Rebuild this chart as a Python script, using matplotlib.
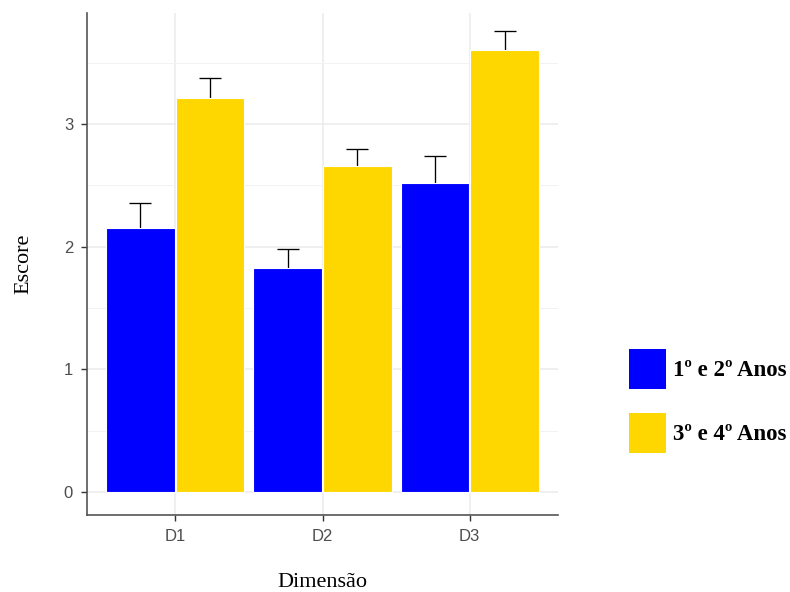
import matplotlib
matplotlib.use("Agg")
import matplotlib.pyplot as plt
import numpy as np
from matplotlib.patches import Rectangle

categories = ["D1", "D2", "D3"]
groups = ["1º e 2º Anos", "3º e 4º Anos"]
means_g1 = [2.15, 1.83, 2.52]
means_g2 = [3.21, 2.66, 3.60]
upper_g1 = [2.36, 1.98, 2.74]
upper_g2 = [3.375, 2.80, 3.76]
colors = ["#0000FF", "#FFD700"]

fig = plt.figure(figsize=(7.9, 5.92), dpi=100)
W, H = 790, 592
ax = fig.add_axes([87 / W, 1 - 515 / H, (558 - 87) / W, (515 - 13) / H])

x = np.arange(1, len(categories) + 1)
bw = 0.465
off = 0.237
for means, upper, col, o in [(means_g1, upper_g1, colors[0], -off),
                             (means_g2, upper_g2, colors[1], off)]:
    means = np.array(means)
    upper = np.array(upper)
    err = upper - means
    ax.errorbar(x + o, means, yerr=err, fmt="none", ecolor="black",
                elinewidth=0.95, capsize=7.6, capthick=0.95, zorder=2)
    ax.bar(x + o, means, width=bw, color=col, edgecolor="white",
           linewidth=0.8, zorder=3)

ax.set_xlim(0.4, 3.6)
ax.set_ylim(-0.1875, 3.905)
ax.set_xticks(x)
ax.set_xticklabels(categories)
ax.set_yticks([0, 1, 2, 3])
ax.set_yticks([0.5, 1.5, 2.5, 3.5], minor=True)
ax.grid(True, which="major", color="#EBEBEB", linewidth=1.1, zorder=0)
ax.grid(True, which="minor", axis="y", color="#F2F2F2", linewidth=0.7, zorder=0)
ax.set_axisbelow(True)
for s in ["top", "right"]:
    ax.spines[s].set_visible(False)
for s in ["left", "bottom"]:
    ax.spines[s].set_color("#555555")
    ax.spines[s].set_linewidth(1.2)
ax.tick_params(axis="both", which="major", colors="#333333", labelcolor="#4D4D4D",
               labelsize=12, length=4, width=1.0, pad=6)
ax.tick_params(axis="y", which="minor", length=0)
for lbl in ax.get_xticklabels() + ax.get_yticklabels():
    lbl.set_family("Liberation Sans")

ax.set_xlabel("Dimensão", family="Liberation Serif", fontsize=16, labelpad=21)
ax.set_ylabel("Escore", family="Liberation Serif", fontsize=16, labelpad=22)

# legend (drawn in figure pixel space)
key_x, key_w, key_h = 629, 37, 40
key_tops = [349, 413]
for top, col, label in zip(key_tops, colors, groups):
    fig.add_artist(Rectangle((key_x / W, 1 - (top + key_h) / H), key_w / W, key_h / H,
                             transform=fig.transFigure, facecolor=col, edgecolor="none"))
    fig.text(673 / W, 1 - (top + key_h / 2 + 1) / H, label, family="Liberation Serif",
             weight="bold", fontsize=16.5, va="center", ha="left", color="black")

fig.savefig("out.png", dpi=100)
